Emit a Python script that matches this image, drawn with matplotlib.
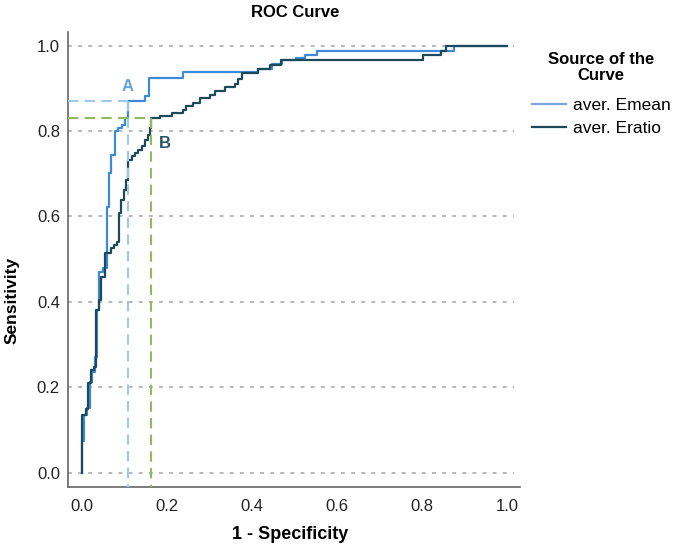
import numpy as np
import matplotlib
matplotlib.use("Agg")
import matplotlib.pyplot as plt

plt.rcParams['font.family'] = ['Liberation Sans', 'DejaVu Sans']

# ROC corners: fpr where curve rises, tpr reached after the rise
emean_fpr = [0.0, 0.0, 0.005, 0.012, 0.021, 0.024, 0.031, 0.036, 0.041, 0.050, 0.061,
             0.064, 0.070, 0.078, 0.085, 0.095, 0.102, 0.109, 0.150, 0.158, 0.238,
             0.414, 0.447, 0.470, 0.505, 0.524, 0.552, 0.876, 1.0]
emean_tpr = [0.0, 0.073, 0.135, 0.152, 0.212, 0.236, 0.271, 0.381, 0.470, 0.479, 0.622,
             0.702, 0.744, 0.800, 0.808, 0.814, 0.831, 0.871, 0.881, 0.924, 0.937,
             0.945, 0.956, 0.965, 0.971, 0.978, 0.988, 1.0, 1.0]

eratio_fpr = [0.0, 0.0, 0.002, 0.011, 0.016, 0.023, 0.029, 0.035, 0.041, 0.046, 0.055,
              0.069, 0.076, 0.083, 0.088, 0.093, 0.099, 0.104, 0.109, 0.118, 0.125,
              0.132, 0.141, 0.149, 0.156, 0.160, 0.163, 0.184, 0.212, 0.238, 0.245,
              0.261, 0.278, 0.301, 0.313, 0.336, 0.360, 0.367, 0.376, 0.415, 0.442,
              0.469, 0.802, 0.845, 0.857, 1.0]
eratio_tpr = [0.0, 0.073, 0.135, 0.149, 0.210, 0.241, 0.248, 0.381, 0.405, 0.458, 0.515,
              0.526, 0.533, 0.540, 0.608, 0.638, 0.662, 0.685, 0.732, 0.742, 0.749,
              0.756, 0.765, 0.779, 0.791, 0.807, 0.830, 0.834, 0.842, 0.849, 0.858,
              0.866, 0.877, 0.884, 0.893, 0.903, 0.911, 0.921, 0.935, 0.945, 0.955,
              0.965, 0.978, 0.987, 1.0, 1.0]

# cut-off points
pt_a = (0.109, 0.871)
pt_b = (0.163, 0.830)

c_emean = '#3d8ad8'
c_eratio = '#1c4a5a'

fig = plt.figure(figsize=(6.81, 5.57), dpi=100)
ax = fig.add_axes([0.1003, 0.1262, 0.6633, 0.8158])
xmin, xmax = -0.031, 1.03
ymin, ymax = -0.033, 1.031
ax.set_xlim(xmin, xmax)
ax.set_ylim(ymin, ymax)

for yv in np.arange(0, 1.01, 0.2):
    ax.plot([xmin, 1.016], [yv, yv], color='#b8b8b8', lw=1.4,
            linestyle=(0, (2, 3.2)), zorder=1)

ax.plot(emean_fpr, emean_tpr, drawstyle='steps-post', color=c_emean, lw=1.6,
        label='aver. Emean', zorder=3)
ax.plot(eratio_fpr, eratio_tpr, drawstyle='steps-post', color=c_eratio, lw=1.6,
        label='aver. Eratio', zorder=3)

# dashed guides
ax.plot([xmin, pt_a[0]], [pt_a[1], pt_a[1]], color='#9cc8ea', lw=1.5,
        linestyle=(0, (5, 3)), zorder=4)
ax.plot([pt_a[0], pt_a[0]], [pt_a[1], ymin], color='#9cc8ea', lw=1.5,
        linestyle=(0, (5, 3)), zorder=4)
ax.plot([xmin, pt_b[0]], [pt_b[1], pt_b[1]], color='#8fba5e', lw=1.5,
        linestyle=(0, (5, 3)), zorder=4)
ax.plot([pt_b[0], pt_b[0]], [pt_b[1], ymin], color='#8fba5e', lw=1.5,
        linestyle=(0, (5, 3)), zorder=4)

ax.text(pt_a[0], 0.903, 'A', color='#6a9fdc', fontsize=12, fontweight='bold',
        ha='center', va='center', zorder=5)
ax.text(0.196, 0.771, 'B', color='#2b5566', fontsize=12, fontweight='bold',
        ha='center', va='center', zorder=5)

for s in ['top', 'right']:
    ax.spines[s].set_visible(False)
ax.spines['left'].set_color('#666666')
ax.spines['bottom'].set_color('#666666')
ax.spines['left'].set_linewidth(1.2)
ax.spines['bottom'].set_linewidth(1.2)

ticks = [0.0, 0.2, 0.4, 0.6, 0.8, 1.0]
ax.set_xticks(ticks)
ax.set_yticks(ticks)
ax.set_xticklabels(['%.1f' % t for t in ticks])
ax.set_yticklabels(['%.1f' % t for t in ticks])
ax.tick_params(axis='both', length=0, labelsize=12, colors='#222222')
ax.tick_params(axis='x', pad=9)
ax.tick_params(axis='y', pad=6)

fig.text(0.433, 0.977, 'ROC Curve', fontsize=12, fontweight='bold',
         ha='center', va='center')
fig.text(0.018, 0.46, 'Sensitivity', fontsize=12.5, fontweight='bold',
         rotation=90, ha='center', va='center')
fig.text(0.426, 0.040, '1 - Specificity', fontsize=13, fontweight='bold',
         ha='center', va='center')

leg = ax.legend(loc='upper left', bbox_to_anchor=(0.763, 0.928), bbox_transform=fig.transFigure,
                title='Source of the\nCurve', frameon=False, fontsize=12.5,
                handlelength=2.0, handletextpad=0.35, labelspacing=0.45,
                borderpad=0.2)
leg.get_title().set_fontweight('bold')
leg.get_title().set_fontsize(12)
leg.get_title().set_multialignment('center')
leg.get_title().set_linespacing(1.05)
leg.get_lines()[0].set_color('#7aa8de')
# a bit more room between the legend title and its entries
leg._legend_box.sep = 11

fig.savefig('out.png', dpi=100)
